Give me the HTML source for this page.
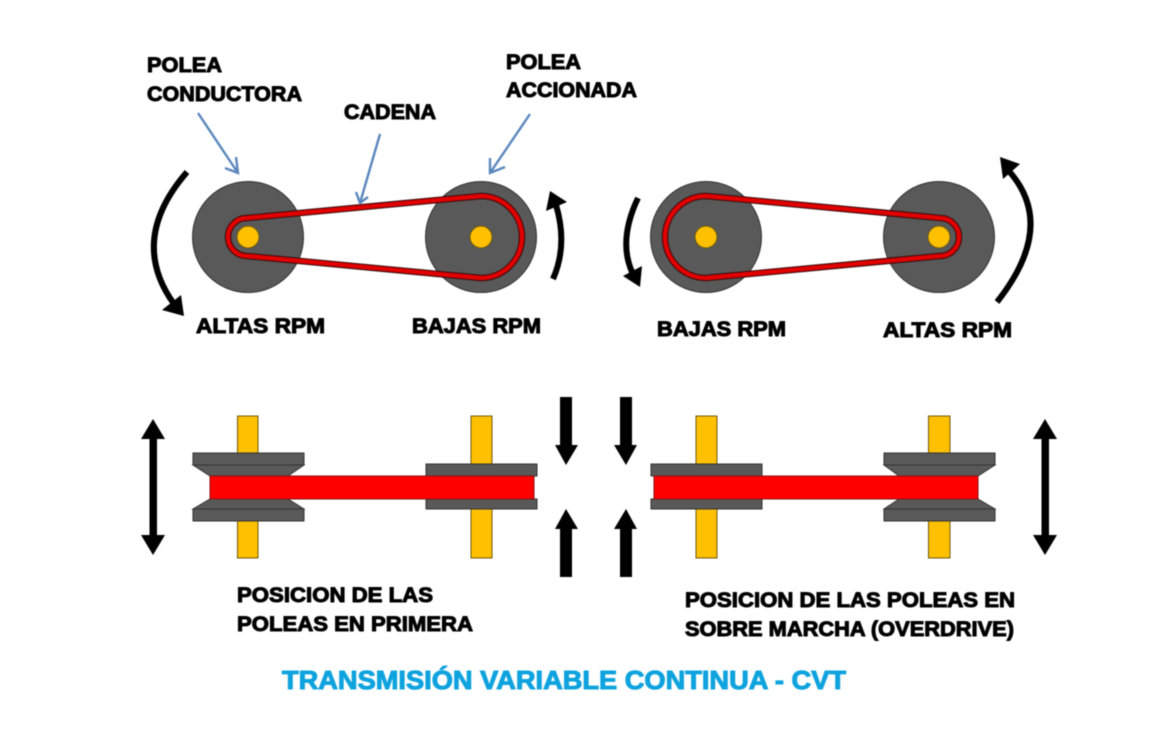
<!DOCTYPE html>
<html><head><meta charset="utf-8"><style>
html,body{margin:0;padding:0;background:#fff}
svg{display:block}
.t{font-family:"Liberation Sans",sans-serif;font-weight:700;font-size:21px;fill:#000;stroke:#000;stroke-width:1px}
.b{font-family:"Liberation Sans",sans-serif;font-weight:700;font-size:26px;fill:#0ea3de;stroke:#0ea3de;stroke-width:1px}
.p{fill:#595959;stroke:#333;stroke-width:1}
.y{fill:#ffc000;stroke:#6b5a10;stroke-width:1}
.belt{fill:none;stroke:#3a0a0a;stroke-width:6.5;stroke-linejoin:round}
.belt2{fill:none;stroke:#e00000;stroke-width:4.4;stroke-linejoin:round}
.r{fill:#ff0000;stroke:#8a1010;stroke-width:1}
.ba{fill:none;stroke:#5b87bd;stroke-width:2.4}
.k{fill:#000}
.c{fill:none;stroke:#000;stroke-width:6}
</style></head><body>
<svg width="1164" height="736" viewBox="0 0 1164 736" xmlns="http://www.w3.org/2000/svg">
<g style="filter:blur(.5px)">
<!-- top pulleys -->
<circle class="p" cx="248" cy="237" r="55.5"/><circle class="p" cx="481" cy="237" r="55.5"/>
<circle class="p" cx="706" cy="237" r="55.5"/><circle class="p" cx="939" cy="237" r="55.5"/>
<circle class="y" cx="248" cy="237" r="11"/><circle class="y" cx="481" cy="237" r="11"/>
<circle class="y" cx="706" cy="237" r="11"/><circle class="y" cx="939" cy="237" r="11"/>
<path class="belt" d="M247,218 L481,196 A41,41 0 0 1 481,278 L247,256 A19,19 0 0 1 247,218 Z"/>
<path class="belt2" d="M247,218 L481,196 A41,41 0 0 1 481,278 L247,256 A19,19 0 0 1 247,218 Z"/>
<path class="belt" d="M940,218 L706,196 A41,41 0 0 0 706,278 L940,256 A19,19 0 0 0 940,218 Z"/>
<path class="belt2" d="M940,218 L706,196 A41,41 0 0 0 706,278 L940,256 A19,19 0 0 0 940,218 Z"/>
<!-- curved arrows -->
<path class="c" d="M187,172 Q128,240 174,304"/><polygon class="k" points="184,316 162,310 181,295"/>
<path class="c" d="M553,279 Q568,245 556,205"/><polygon class="k" points="550,191 546,211 567,202"/>
<path class="c" d="M638,198 Q618,240 632,272"/><polygon class="k" points="640,287 623,276 642,266"/>
<path class="c" d="M997,302 Q1058,225 1008,170"/><polygon class="k" points="1000,157 1003,179 1020,164"/>
<!-- blue arrows -->
<path class="ba" d="M198,113 L238,173 M225,168 L238,173 L236,157"/>
<path class="ba" d="M380,134 L360,203 M356,192 L360,203 L368,197"/>
<path class="ba" d="M530,114 L490,173 M490,158 L490,173 L505,167"/>
<!-- bottom left assembly -->
<rect class="y" x="237.5" y="416" width="20.5" height="142"/>
<rect class="y" x="471" y="416" width="21" height="142"/>
<rect class="p" x="193" y="453" width="111" height="12"/>
<polygon class="p" points="193,465 304,465 288,476 210,476"/>
<polygon class="p" points="193,509 304,509 288,499 210,499"/>
<rect class="p" x="193" y="509" width="111" height="12"/>
<rect class="p" x="426" y="464" width="111" height="12"/>
<rect class="p" x="426" y="499" width="111" height="10"/>
<rect class="r" x="210" y="476" width="324" height="23"/>
<!-- bottom right assembly -->
<rect class="y" x="696" y="416" width="21" height="142"/>
<rect class="y" x="928.5" y="416" width="21.5" height="142"/>
<rect class="p" x="651" y="464" width="111" height="12"/>
<rect class="p" x="651" y="499" width="111" height="10"/>
<rect class="p" x="884" y="453" width="111" height="12"/>
<polygon class="p" points="884,465 995,465 978,476 899,476"/>
<polygon class="p" points="884,509 995,509 978,499 899,499"/>
<rect class="p" x="884" y="509" width="111" height="12"/>
<rect class="r" x="654" y="476" width="324" height="23"/>
<!-- straight arrows -->
<polygon class="k" points="153,419 165,439 157,439 157,535 165,535 153,555 141,535 149.500,535 149.500,439 141,439"/>
<polygon class="k" points="1045,419 1057,439 1049,439 1049,535 1057,535 1045,555 1033,535 1041.500,535 1041.500,439 1033,439"/>
<polygon class="k" points="560,397 572,397 572,445 578,445 566,465 555,445 560,445"/>
<polygon class="k" points="620,397 632,397 632,445 637,445 626,465 614,445 620,445"/>
<polygon class="k" points="566,509 578,529 572,529 572,577 560,577 560,529 555,529"/>
<polygon class="k" points="626,509 637,529 632,529 632,577 620,577 620,529 614,529"/>
<!-- text -->
<text class="t" x="147" y="72" textLength="75" lengthAdjust="spacingAndGlyphs">POLEA</text>
<text class="t" x="147" y="101" textLength="155" lengthAdjust="spacingAndGlyphs">CONDUCTORA</text>
<text class="t" x="344" y="119" textLength="92" lengthAdjust="spacingAndGlyphs">CADENA</text>
<text class="t" x="506" y="69" textLength="75" lengthAdjust="spacingAndGlyphs">POLEA</text>
<text class="t" x="506" y="97" textLength="131" lengthAdjust="spacingAndGlyphs">ACCIONADA</text>
<text class="t" x="196" y="333" textLength="129" lengthAdjust="spacingAndGlyphs">ALTAS RPM</text>
<text class="t" x="412" y="333" textLength="129" lengthAdjust="spacingAndGlyphs">BAJAS RPM</text>
<text class="t" x="657" y="336" textLength="129" lengthAdjust="spacingAndGlyphs">BAJAS RPM</text>
<text class="t" x="883" y="337" textLength="129" lengthAdjust="spacingAndGlyphs">ALTAS RPM</text>
<text class="t" x="237" y="602" textLength="196" lengthAdjust="spacingAndGlyphs">POSICION DE LAS</text>
<text class="t" x="237" y="631" textLength="236" lengthAdjust="spacingAndGlyphs">POLEAS EN PRIMERA</text>
<text class="t" x="685" y="607" textLength="330" lengthAdjust="spacingAndGlyphs">POSICION DE LAS POLEAS EN</text>
<text class="t" x="685" y="636" textLength="329" lengthAdjust="spacingAndGlyphs">SOBRE MARCHA (OVERDRIVE)</text>
<text class="b" x="282" y="689" textLength="564" lengthAdjust="spacingAndGlyphs">TRANSMISIÓN VARIABLE CONTINUA - CVT</text>
</g>
</svg>
</body></html>
